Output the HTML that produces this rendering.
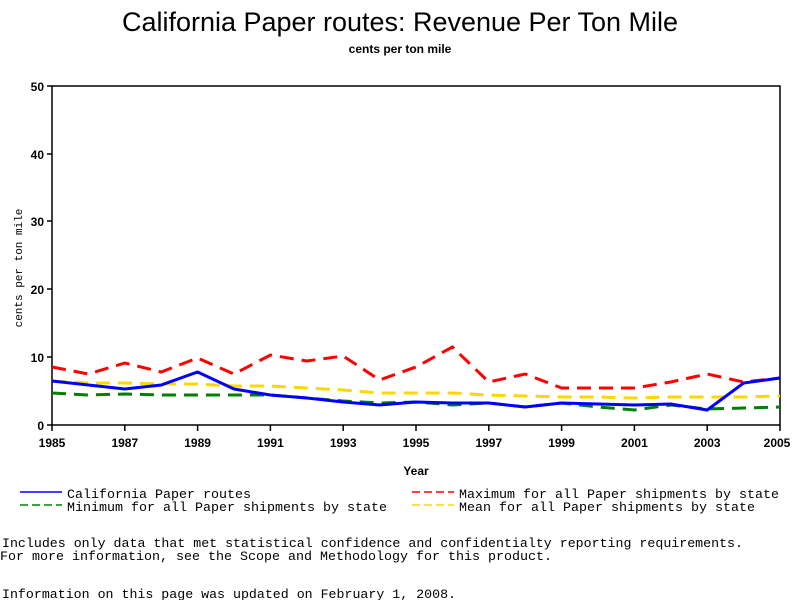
<!DOCTYPE html>
<html><head><meta charset="utf-8"><style>
body{margin:0;background:#fff;width:800px;height:600px;overflow:hidden}
svg{display:block}
.m{font-family:"Liberation Mono",monospace;font-size:13.3px}
.t{font-family:"Liberation Sans",sans-serif;font-weight:bold;font-size:12px}
</style></head><body>
<svg width="800" height="600" xmlns="http://www.w3.org/2000/svg">
<text x="400" y="31" text-anchor="middle" font-family="Liberation Sans,sans-serif" font-size="27" textLength="556" lengthAdjust="spacingAndGlyphs">California Paper routes: Revenue Per Ton Mile</text>
<text x="400" y="53" text-anchor="middle" class="t" font-size="11">cents per ton mile</text>
<rect x="52" y="86" width="728" height="339" fill="none" stroke="#000" stroke-width="1.5"/>
<g stroke="#000" stroke-width="1.5">
<line x1="47" y1="86" x2="52" y2="86"/><line x1="47" y1="154" x2="52" y2="154"/><line x1="47" y1="221" x2="52" y2="221"/><line x1="47" y1="289" x2="52" y2="289"/><line x1="47" y1="357" x2="52" y2="357"/><line x1="47" y1="425" x2="52" y2="425"/>
<line x1="52" y1="425" x2="52" y2="431"/><line x1="124.8" y1="425" x2="124.8" y2="431"/><line x1="197.6" y1="425" x2="197.6" y2="431"/><line x1="270.4" y1="425" x2="270.4" y2="431"/><line x1="343.2" y1="425" x2="343.2" y2="431"/><line x1="416" y1="425" x2="416" y2="431"/><line x1="488.8" y1="425" x2="488.8" y2="431"/><line x1="561.6" y1="425" x2="561.6" y2="431"/><line x1="634.4" y1="425" x2="634.4" y2="431"/><line x1="707.2" y1="425" x2="707.2" y2="431"/><line x1="780" y1="425" x2="780" y2="431"/>
</g>
<g class="t" text-anchor="end">
<text x="44" y="91">50</text><text x="44" y="159">40</text><text x="44" y="226">30</text><text x="44" y="294">20</text><text x="44" y="362">10</text><text x="44" y="430">0</text>
</g>
<g class="t" text-anchor="middle">
<text x="52" y="447">1985</text><text x="124.8" y="447">1987</text><text x="197.6" y="447">1989</text><text x="270.4" y="447">1991</text><text x="343.2" y="447">1993</text><text x="416" y="447">1995</text><text x="488.8" y="447">1997</text><text x="561.6" y="447">1999</text><text x="634.4" y="447">2001</text><text x="707.2" y="447">2003</text><text x="777" y="447">2005</text>
<text x="416" y="475">Year</text>
</g>
<text transform="translate(22,268) rotate(-90)" text-anchor="middle" font-family="Liberation Mono,monospace" font-size="11">cents per ton mile</text>
<g fill="none" stroke-width="3">
<polyline stroke="#ffd700" stroke-dasharray="14,8" points="52,381 88.4,383 124.8,383 161.2,384 197.6,384 234,386 270.4,386 306.8,388 343.2,390 379.6,393 416,393 452.4,393 488.8,395 525.2,396 561.6,397 598,397 634.4,398 670.8,397 707.2,397 743.6,397 780,396"/>
<polyline stroke="#008000" stroke-dasharray="14,8" points="52,393 88.4,395 124.8,394 161.2,395 197.6,395 234,395 270.4,395 306.8,398 343.2,401 379.6,403 416,402 452.4,405 488.8,403 525.2,407 561.6,403 598,407 634.4,410 670.8,405 707.2,409 743.6,408 780,407"/>
<polyline stroke="#ff0000" stroke-dasharray="14,8" points="52,367 88.4,374 124.8,363 161.2,372 197.6,358 234,374 270.4,355 306.8,361 343.2,356 379.6,380 416,367 452.4,347 488.8,382 525.2,374 561.6,388 598,388 634.4,388 670.8,382 707.2,374 743.6,382 780,378"/>
<polyline stroke="#0000ff" points="52,381 88.4,385 124.8,389 161.2,385 197.6,372 234,389 270.4,395 306.8,398 343.2,402 379.6,405 416,402 452.4,403 488.8,403 525.2,407 561.6,403 598,404 634.4,405 670.8,404 707.2,410 743.6,383 780,378"/>
</g>
<g stroke-width="1.5">
<line x1="20" y1="492" x2="62" y2="492" stroke="#0000ff"/>
<line x1="20" y1="505" x2="62" y2="505" stroke="#008000" stroke-dasharray="8,4"/>
<line x1="412" y1="492" x2="454" y2="492" stroke="#ff0000" stroke-dasharray="8,4"/>
<line x1="412" y1="505" x2="454" y2="505" stroke="#ffd700" stroke-dasharray="8,4"/>
</g>
<g class="m">
<text x="67" y="498" textLength="184" lengthAdjust="spacingAndGlyphs">California Paper routes</text>
<text x="67" y="511" textLength="320" lengthAdjust="spacingAndGlyphs">Minimum for all Paper shipments by state</text>
<text x="459" y="498" textLength="320" lengthAdjust="spacingAndGlyphs">Maximum for all Paper shipments by state</text>
<text x="459" y="511" textLength="296" lengthAdjust="spacingAndGlyphs">Mean for all Paper shipments by state</text>
<text x="2" y="547" textLength="741" lengthAdjust="spacingAndGlyphs">Includes only data that met statistical confidence and confidentialty reporting requirements.</text>
<text x="0" y="560" textLength="552" lengthAdjust="spacingAndGlyphs">For more information, see the Scope and Methodology for this product.</text>
<text x="2" y="598" textLength="454" lengthAdjust="spacingAndGlyphs">Information on this page was updated on February 1, 2008.</text>
</g>
</svg>
</body></html>
